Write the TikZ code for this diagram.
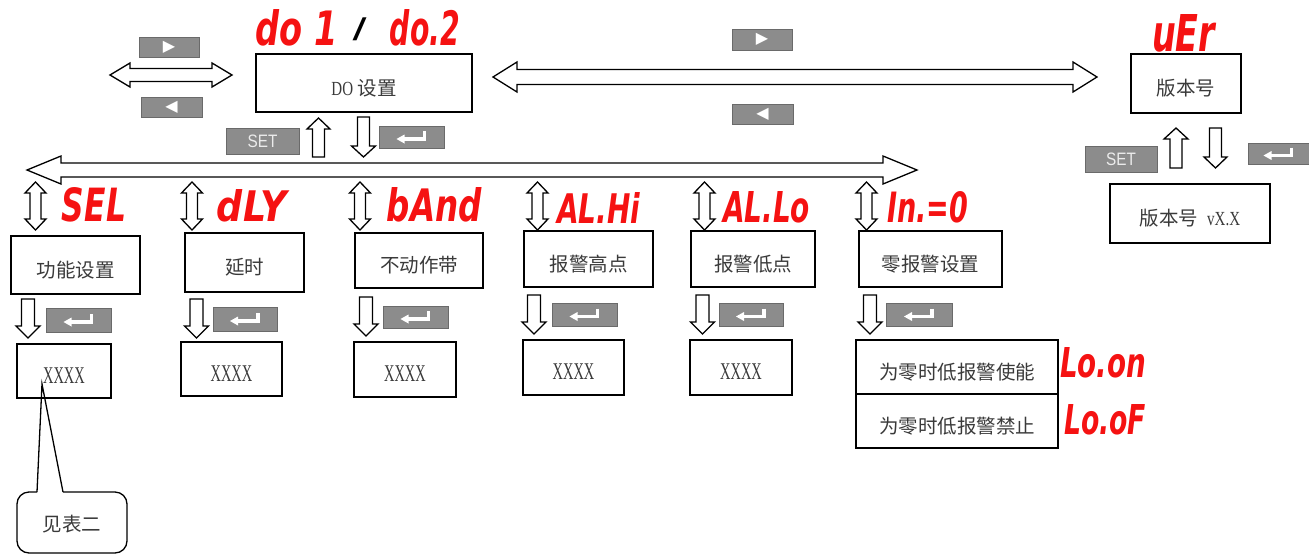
\documentclass[tikz,border=0pt]{standalone}
\usepackage{fontspec}
\usepackage{graphicx}
\setmainfont{Liberation Serif}
\newfontfamily\cjk{Noto Sans CJK SC}
\newfontfamily\segfont{DejaVu Sans}
\newfontfamily\symfont{DejaVu Sans}
\newfontfamily\keyfont{Liberation Sans}
\definecolor{keygray}{HTML}{8C8C8C}
\definecolor{keyedge}{HTML}{6A6A6A}
\definecolor{segred}{HTML}{F51212}
\definecolor{txt}{HTML}{3A3A3A}
\newcommand{\segtxt}[3]{\resizebox{#1pt}{#2pt}{\segfont\bfseries\itshape #3}}
\newcommand{\xxxx}{{\rmfamily\scalebox{0.6}[1]{\fontsize{24}{24}\selectfont XXXX}}}
\newcommand{\latn}[1]{{\rmfamily\scalebox{0.75}[1]{\fontsize{20}{20}\selectfont #1}}}
\begin{document}
\begin{tikzpicture}[x=1pt,y=-1pt,
  sz/.style 2 args={minimum width=#1pt, minimum height=#2pt},
  box/.style={draw=black, line width=1.3pt, inner sep=0pt, text=txt, text height=24pt, text depth=0pt, font=\cjk\fontsize{19.5}{21}\selectfont},
  key/.style={draw=keyedge, fill=keygray, line width=0.8pt, inner sep=0pt},
  keytxt/.style={key, text=white!92!black, font=\keyfont\fontsize{18}{18}\selectfont},
  tri/.style={key, text=white, font=\symfont\fontsize{16}{16}\selectfont},
  enter/.style={key, path picture={
     \fill[white] ([shift={(-15,2)}]path picture bounding box.center) -- ([shift={(-7,-2.5)}]path picture bounding box.center) -- ([shift={(-7,6.5)}]path picture bounding box.center) -- cycle;
     \draw[white, line width=3.5pt] ([shift={(13,-6)}]path picture bounding box.center) -- ([shift={(13,2)}]path picture bounding box.center) -- ([shift={(-8,2)}]path picture bounding box.center);
  }},
  seg/.style={inner sep=0pt, text=segred},
  hollow/.style={draw=black, fill=white, line width=1.3pt, line join=miter},
  pics/dbl/.style n args={4}{code={
    \draw[hollow] (0,0) -- (#4,-#3) -- (#4,-#2) -- ({#1-#4},-#2) -- ({#1-#4},-#3) -- (#1,0) -- ({#1-#4},#3) -- ({#1-#4},#2) -- (#4,#2) -- (#4,#3) -- cycle;}},
  pics/sgl/.style n args={4}{code={
    \draw[hollow] (0,-#2) -- ({#1-#4},-#2) -- ({#1-#4},-#3) -- (#1,0) -- ({#1-#4},#3) -- ({#1-#4},#2) -- (0,#2) -- cycle;}},
]
\useasboundingbox (0,0) rectangle (1309,555);

% ---------- top row ----------
\node[seg] (do1) at (297,28) {\segtxt{82}{36}{do 1}};
\node[inner sep=0pt] (slash) at (359.5,29) {\resizebox*{14pt}{23pt}{\keyfont /}};
\node[seg] (do2) at (425,28) {\segtxt{70}{36}{do.2}};
\node[box, sz={216}{58}] (dobox) at (364,83) {\latn{DO}\ 设置};

\pic at (110,75) {dbl={122}{6.5}{12}{20}};
\node[tri, sz={60}{20}] (kR1) at (169,47) {▶};
\node[tri, sz={61}{20}] (kL1) at (171.5,107) {◀};

\node[keytxt, sz={73}{26}] (set1) at (262.5,141) {\scalebox{0.85}[1]{SET}};
\pic[rotate=90] at (318.5,157) {sgl={39}{6}{11.5}{11}};
\pic[rotate=-90] at (363.5,117) {sgl={40}{6}{12}{11}};
\node[enter, sz={65}{22}] (ent0) at (411.5,137) {};

\pic at (493,77) {dbl={604}{7.5}{15}{24}};
\node[tri, sz={60}{21}] (kR2) at (762,39.5) {▶};
\node[tri, sz={61}{20}] (kL2) at (762.5,114) {◀};

\node[seg] (ver) at (1183.5,33.5) {\segtxt{63}{37}{uEr}};
\node[box, sz={110}{59}] (verbox) at (1186,83.5) {版本号};
\node[keytxt, sz={72}{26}] (set2) at (1121,159) {\scalebox{0.85}[1]{SET}};
\pic[rotate=90] at (1176,168) {sgl={40}{6}{12}{11}};
\pic[rotate=-90] at (1215.5,128) {sgl={40}{6}{11.5}{11}};
\node[enter, sz={61}{21}] (ent7) at (1278.5,153.5) {};
\node[box, sz={160}{59}] (vxbox) at (1190,213.5) {版本号\ \ \latn{vX.X}};

% ---------- main bus ----------
\pic at (27,170) {dbl={890}{7}{14}{34}};

% column 1
\pic[rotate=-90] at (35.5,182) {dbl={48}{5.5}{10.5}{11}};
\node[seg] (sel) at (94,205) {\segtxt{64}{34}{SEL}};
\node[box, sz={129}{58}] (b1) at (75.5,265) {功能设置};
\pic[rotate=-90] at (28,299) {sgl={39}{6.5}{12}{12}};
\node[enter, sz={65}{24}] (e1) at (78.5,320) {};
\node[box, sz={94}{54}] (x1) at (64,371) {\xxxx};

% column 2
\pic[rotate=-90] at (192,182) {dbl={48}{5.5}{10.5}{11}};
\node[seg] (dly) at (252,206) {\segtxt{70}{32}{dLY}};
\node[box, sz={119}{59}] (b2) at (244.5,262.5) {延时};
\pic[rotate=-90] at (196.5,299) {sgl={39}{6.5}{12}{12}};
\node[enter, sz={64}{24}] (e2) at (245,319) {};
\node[box, sz={101}{54}] (x2) at (231.5,369) {\xxxx};

% column 3
\pic[rotate=-90] at (360,182) {dbl={48}{5.5}{10.5}{11}};
\node[seg] (band) at (434.5,205) {\segtxt{95}{34}{bAnd}};
\node[box, sz={128}{55}] (b3) at (419,260.5) {不动作带};
\pic[rotate=-90] at (366,297) {sgl={39}{6.5}{12}{12}};
\node[enter, sz={65}{22}] (e3) at (415.5,317) {};
\node[box, sz={102}{55}] (x3) at (405,369.5) {\xxxx};

% column 4
\pic[rotate=-90] at (537.5,182) {dbl={48}{5.5}{10.5}{11}};
\node[seg] (alhi) at (598.5,207.5) {\segtxt{83}{31}{AL.Hi}};
\node[box, sz={129}{56}] (b4) at (588.5,259) {报警高点};
\pic[rotate=-90] at (534,295) {sgl={39}{6.5}{12}{12}};
\node[enter, sz={65}{23}] (e4) at (584.5,314.5) {};
\node[box, sz={101}{55}] (x4) at (573.5,367.5) {\xxxx};

% column 5
\pic[rotate=-90] at (704.5,182) {dbl={48}{5.5}{10.5}{11}};
\node[seg] (allo) at (766.5,207.5) {\segtxt{87}{31}{AL.Lo}};
\node[box, sz={124}{56}] (b5) at (753,259) {报警低点};
\pic[rotate=-90] at (702.5,295) {sgl={39}{6.5}{12}{12}};
\node[enter, sz={64}{23}] (e5) at (751,314.5) {};
\node[box, sz={102}{55}] (x5) at (741,367.5) {\xxxx};

% column 6
\pic[rotate=-90] at (866.5,182) {dbl={48}{5.5}{10.5}{11}};
\node[seg] (in0) at (927.5,207.5) {\segtxt{81}{31}{In.=0}};
\node[box, sz={143}{56}] (b6) at (930.5,259) {零报警设置};
\pic[rotate=-90] at (870,295) {sgl={39}{6.5}{12}{12}};
\node[enter, sz={66}{23}] (e6) at (919,314.5) {};
\node[box, sz={202}{54}] (r1) at (957,367) {为零时低报警使能};
\node[box, sz={202}{54}] (r2) at (957,421) {为零时低报警禁止};
\node[seg] (loon) at (1103,363) {\segtxt{86}{30}{Lo.on}};
\node[seg] (loof) at (1105,420) {\segtxt{82}{30}{Lo.oF}};

% callout
\node[inner sep=0pt, text=txt, font=\cjk\fontsize{19.5}{21}\selectfont] (note) at (72,524) {见表二};
\coordinate (tip) at (42,384);
\draw[line width=1.3pt, rounded corners=12pt] (63,492) -- (127,492) -- (127,553) -- (17,553) -- (17,492) -- (37,492);
\draw[line width=1.3pt, line join=miter] (37,492) -- (tip) -- (63,492);
\end{tikzpicture}
\end{document}
